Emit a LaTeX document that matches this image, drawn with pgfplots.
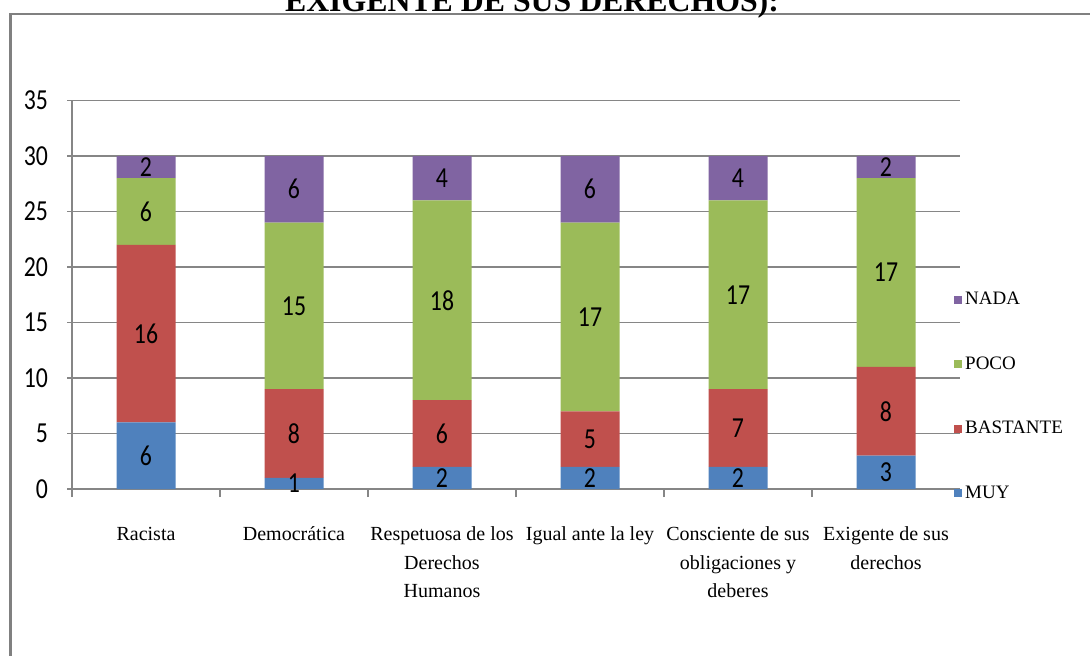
\documentclass[border=0pt]{standalone}
\usepackage{pgfplots}
\pgfplotsset{compat=1.18}
\usepackage{fontspec}
\setmainfont{Liberation Serif}
\newfontfamily\calib[FakeStretch=0.82]{Carlito}
\definecolor{cblue}{HTML}{4F81BD}
\definecolor{cred}{HTML}{C0504D}
\definecolor{cgreen}{HTML}{9BBB59}
\definecolor{cpurple}{HTML}{8064A2}
\definecolor{gridc}{RGB}{134,134,134}
\definecolor{framec}{RGB}{128,128,128}

\pgfplotstableread{
x y l
0 3 6
0 14 16
0 25 6
0 29 2
1 0.5 1
1 5 8
1 16.5 15
1 27 6
2 1 2
2 5 6
2 17 18
2 28 4
3 1 2
3 4.5 5
3 15.5 17
3 27 6
4 1 2
4 5.5 7
4 17.5 17
4 28 4
5 1.5 3
5 7 8
5 19.5 17
5 29 2
}\labeltable

\begin{document}
\begin{tikzpicture}
\path[use as bounding box] (0,0) rectangle (545pt,327.5pt);
\draw[framec, line width=1.3pt] (5.25pt,-10pt) -- (5.25pt,320.5pt) -- (560pt,320.5pt);
\node[anchor=base, font=\fontsize{15.9}{18}\selectfont\bfseries, inner sep=0pt] at (266pt,321.5pt) {EXIGENTE DE SUS DERECHOS):};

\begin{axis}[
  at={(36pt,83pt)}, anchor=south west,
  scale only axis, width=444pt, height=194.25pt,
  ybar stacked, bar width=29.5pt,
  xmin=-0.5, xmax=5.5, ymin=0, ymax=35,
  ytick={0,5,...,35},
  xtick={0,...,5},
  xticklabels={Racista, Democrática, {Respetuosa de los\\Derechos\\Humanos}, Igual ante la ley, {Consciente de sus\\obligaciones y\\deberes}, {Exigente de sus\\derechos}},
  axis x line*=bottom, axis y line*=left,
  axis line style={gridc, line width=0.6pt},
  ymajorgrids, grid style={gridc, line width=0.75pt},
  tick align=outside, major tick length=2.5pt,
  ytick style={gridc, line width=0.75pt},
  xtick style={draw=none},
  extra x ticks={-0.5,0.5,...,5.5}, extra x tick labels={},
  extra x tick style={xtick style={draw=gridc, line width=0.75pt}, major tick length=4pt},
  /pgf/number format/assume math mode=true,
  yticklabel style={font=\calib\fontsize{14.5}{16}\selectfont, xshift=-6pt},
  xticklabel style={font=\fontsize{10}{14.25}\selectfont, align=center, yshift=-13pt},
  legend image code/.code={\fill[#1] (0pt,-2pt) rectangle (4pt,2pt);},
  reverse legend,
  legend cell align=left,
  legend style={at={(axis description cs:0.993,0.238)}, anchor=west, draw=none, fill=none,
    font=\fontsize{9.5}{11}\selectfont, row sep=21.5pt, inner sep=0pt,
    nodes={inner sep=1.5pt}},
]
\addplot[fill=cblue, draw=none] coordinates {(0,6) (1,1) (2,2) (3,2) (4,2) (5,3)};
\addlegendentry{MUY}
\addplot[fill=cred, draw=none] coordinates {(0,16) (1,8) (2,6) (3,5) (4,7) (5,8)};
\addlegendentry{BASTANTE}
\addplot[fill=cgreen, draw=none] coordinates {(0,6) (1,15) (2,18) (3,17) (4,17) (5,17)};
\addlegendentry{POCO}
\addplot[fill=cpurple, draw=none] coordinates {(0,2) (1,6) (2,4) (3,6) (4,4) (5,2)};
\addlegendentry{NADA}
\end{axis}

\begin{axis}[
  at={(36pt,83pt)}, anchor=south west,
  scale only axis, width=444pt, height=194.25pt,
  xmin=-0.5, xmax=5.5, ymin=0, ymax=35,
  axis lines=none, clip=false,
]
\addplot[only marks, mark=*, mark size=0pt, mark options={draw=none, fill=none},
  nodes near coords={\pgfplotspointmeta}, point meta=explicit symbolic,
  nodes near coords style={anchor=center, inner sep=0pt, font=\calib\fontsize{14.5}{16}\selectfont}]
  table[x=x, y=y, meta=l] {\labeltable};
\end{axis}
\end{tikzpicture}
\end{document}
